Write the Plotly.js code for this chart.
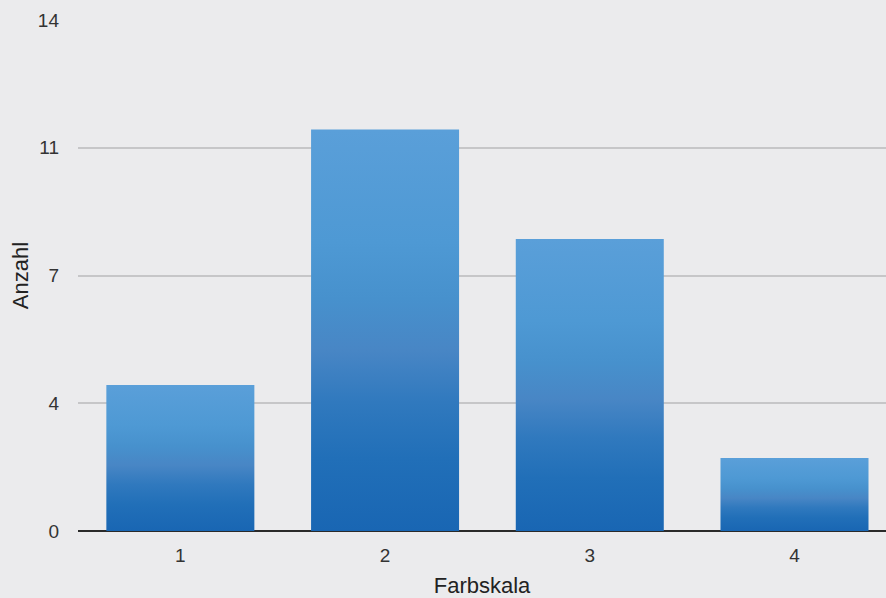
<!DOCTYPE html>
<html>
<head>
<meta charset="utf-8">
<script src="https://cdn.plot.ly/plotly-3.0.1.min.js"></script>
<style>html,body{margin:0;padding:0;background:#ebebed;}#chart{width:886px;height:598px;}</style>
</head>
<body>
<div id="chart"></div>
<script>
const categories = ["1", "2", "3", "4"];
const counts = [4, 11, 8, 2];
const yTickVals = [0, 3.5, 7, 10.5, 14];
const yTickText = ["0", "4", "7", "11", "14"];
const xTitle = "Farbskala";
const yTitle = "Anzahl";

const font = "Liberation Sans, Arial, Helvetica, sans-serif";

const trace = {
  type: "bar",
  x: categories,
  y: counts,
  marker: {color: "#3f86c8", line: {width: 0}},
  hoverinfo: "x+y"
};

const layout = {
  width: 886, height: 598,
  margin: {l: 78, r: 0, t: 20, b: 67},
  paper_bgcolor: "#ebebed",
  plot_bgcolor: "#ebebed",
  bargap: 0.277,
  showlegend: false,
  font: {family: font, color: "#333"},
  xaxis: {
    type: "category",
    range: [-0.5, 3.447],
    showgrid: false,
    zeroline: false,
    showline: false,
    ticks: "",
    ticklabelstandoff: 11,
    tickfont: {size: 19, color: "#333"},
    title: {text: xTitle, font: {size: 22, color: "#222"}, standoff: 12},
    automargin: false,
    fixedrange: true
  },
  yaxis: {
    range: [0, 14],
    tickmode: "array",
    tickvals: yTickVals,
    ticktext: yTickText,
    showgrid: true,
    gridcolor: "#c6c6c8",
    gridwidth: 2,
    zeroline: true,
    zerolinecolor: "#2a2a2a",
    zerolinewidth: 2,
    showline: false,
    ticks: "",
    ticklabelstandoff: 18,
    tickfont: {size: 19, color: "#333"},
    title: {text: yTitle, font: {size: 22, color: "#222"}, standoff: 3},
    automargin: false,
    fixedrange: true
  }
};

function applyGradient(gd) {
  const svg = gd.querySelector(".main-svg");
  if (!svg) return;
  const ns = "http://www.w3.org/2000/svg";
  let defs = svg.querySelector("defs");
  if (!defs) { defs = document.createElementNS(ns, "defs"); svg.insertBefore(defs, svg.firstChild); }
  if (!svg.querySelector("#barGrad")) {
    const g = document.createElementNS(ns, "linearGradient");
    g.setAttribute("id", "barGrad");
    g.setAttribute("x1", "0"); g.setAttribute("y1", "0");
    g.setAttribute("x2", "0"); g.setAttribute("y2", "1");
    const stops = [[0, "#5a9fd9"], [0.28, "#4e99d4"], [0.42, "#4791cd"], [0.55, "#4886c5"], [0.68, "#3079be"], [0.82, "#216fb8"], [1, "#1966b3"]];
    stops.forEach(function (s) {
      const st = document.createElementNS(ns, "stop");
      st.setAttribute("offset", s[0]);
      st.setAttribute("stop-color", s[1]);
      g.appendChild(st);
    });
    defs.appendChild(g);
  }
  gd.querySelectorAll(".bars .point path").forEach(function (p) {
    p.style.fill = "url(#barGrad)";
  });
}

Plotly.newPlot("chart", [trace], layout, {displayModeBar: false, staticPlot: true}).then(function (gd) {
  applyGradient(gd);
  gd.on("plotly_afterplot", function () { applyGradient(gd); });
});
</script>
</body>
</html>
